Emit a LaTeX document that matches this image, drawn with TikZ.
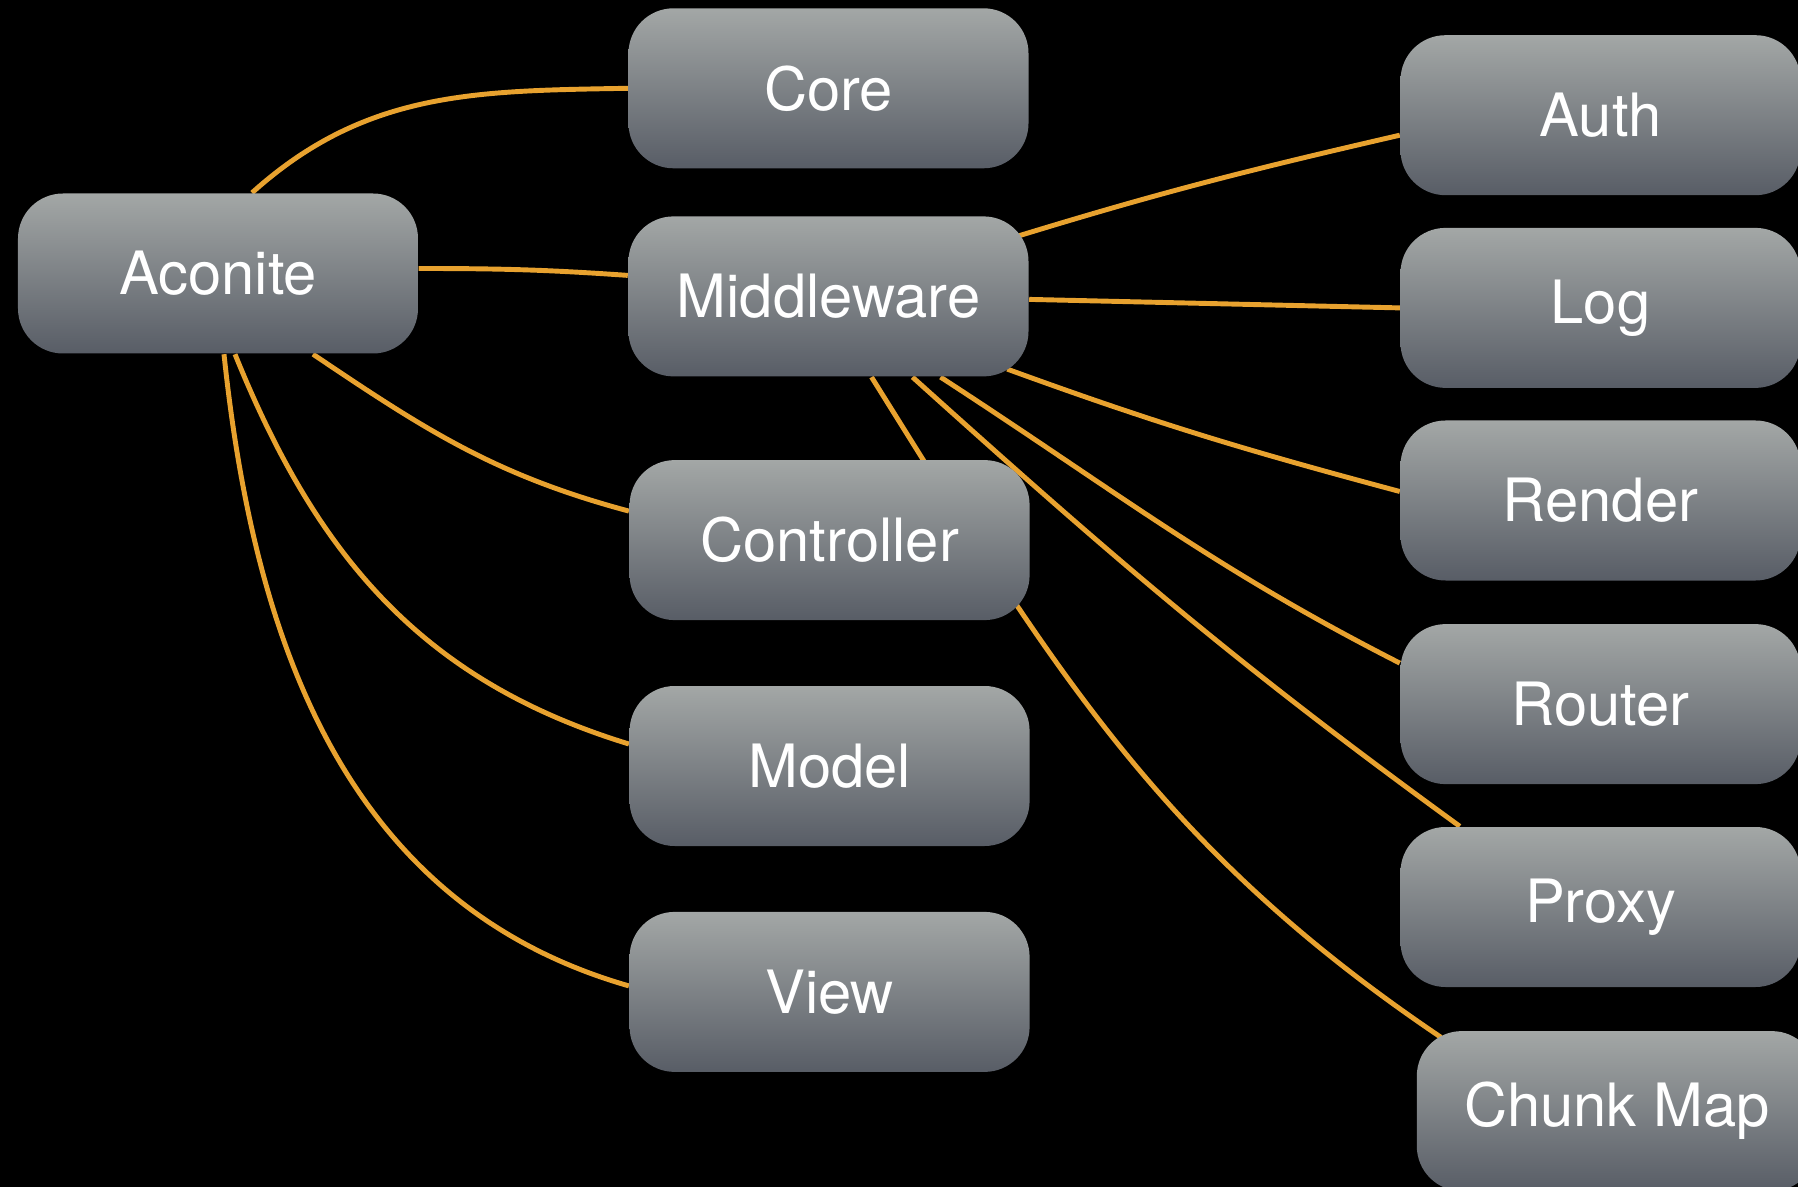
\documentclass[tikz,border=0pt]{standalone}
\usepackage{fontspec}
\setmainfont{TeX Gyre Heros}
\definecolor{boxtop}{HTML}{A3A7A6}
\definecolor{boxbot}{HTML}{585D66}
\definecolor{wire}{HTML}{E8A22F}
\pgfdeclarelayer{back}
\pgfdeclarelayer{wires}
\pgfsetlayers{back,wires,main}
\begin{document}
\begin{tikzpicture}[
box/.style={rounded corners=4.5mm,top color=boxtop,bottom color=boxbot,
  minimum width=4cm,minimum height=1.6cm,text=white,
  font=\fontsize{17}{20}\selectfont},
link/.style={draw=wire,line width=1.4pt},
]
\useasboundingbox (0,0) rectangle (17.98,-11.87);
\begin{pgfonlayer}{back}
\fill[black] (0,0) rectangle (17.98,-11.87);
\end{pgfonlayer}
\path
    (2.18,-2.735) node[box] (acon) {Aconite}
    (8.285,-0.883) node[box] (core) {Core}
    (8.285,-2.964) node[box] (mid) {Middleware}
    (8.296,-5.401) node[box] (ctrl) {Controller}
    (8.296,-7.660) node[box] (model) {Model}
    (8.296,-9.919) node[box] (view) {View}
    (16.005,-1.152) node[box] (auth) {Auth}
    (16.005,-3.079) node[box] (log) {Log}
    (16.005,-5.005) node[box] (render) {Render}
    (16.005,-7.041) node[box] (router) {Router}
    (16.005,-9.070) node[box] (proxy) {Proxy}
    (16.168,-11.111) node[box] (chunk) {Chunk Map};
\begin{pgfonlayer}{wires}
\path[link]
    ([xshift=3.4mm]acon.north) to[out=42,in=181] (core.west)
    ([yshift=0.5mm]acon.east) to[out=0,in=176] ([yshift=2.1mm]mid.west)
    ([xshift=9.5mm]acon.south) to[out=-34,in=165] ([yshift=2.9mm]ctrl.west)
    ([xshift=1.7mm]acon.south) to[out=-68,in=163] ([yshift=2.2mm]model.west)
    ([xshift=0.6mm]acon.south) to[out=-84,in=164] ([yshift=0.6mm]view.west)
    ([shift={(-1mm,-2mm)}]mid.north east) to[out=17,in=193] ([yshift=-2mm]auth.west)
    ([yshift=-0.3mm]mid.east) -- (log.west)
    ([shift={(-2.2mm,0.8mm)}]mid.south east) to[out=-20,in=165] ([yshift=0.9mm]render.west)
    ([xshift=11.2mm]mid.south) to[out=-33,in=153] ([yshift=4.1mm]router.west)
    ([xshift=8.4mm]mid.south) to[out=-42,in=144] ([xshift=6mm]proxy.north west)
    ([xshift=4.3mm]mid.south) to[out=-58,in=146] ([shift={(2.5mm,-0.7mm)}]chunk.north west);
\end{pgfonlayer}
\end{tikzpicture}
\end{document}
